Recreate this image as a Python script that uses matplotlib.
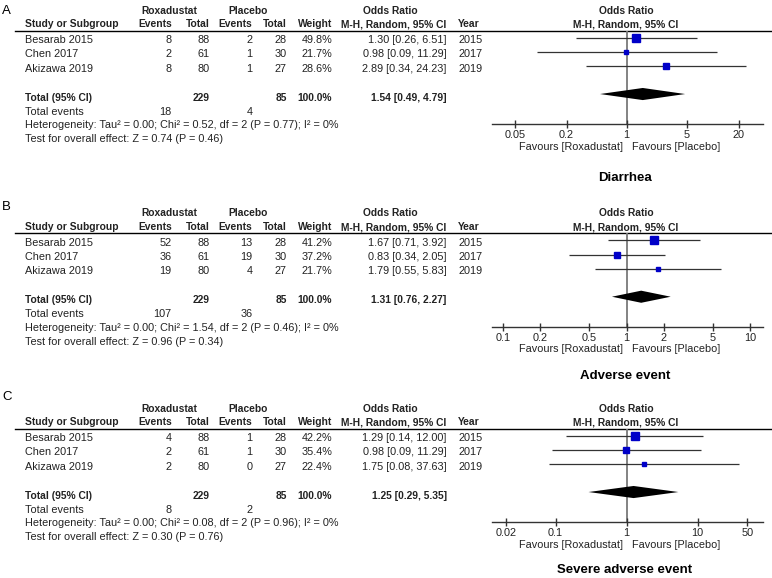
import numpy as np
import matplotlib.pyplot as plt

plt.rcParams['font.family'] = ['Liberation Sans', 'DejaVu Sans']

# data
studies = ['Besarab 2015', 'Chen 2017', 'Akizawa 2019']
years = ['2015', '2017', '2019']
rox_total = [88, 61, 80]
pla_total = [28, 30, 27]

panel_labels = ['A', 'B', 'C']
outcomes = ['Diarrhea', 'Adverse event', 'Severe adverse event']

rox_events = [[8, 2, 8], [52, 36, 19], [4, 2, 2]]
pla_events = [[2, 1, 1], [13, 19, 4], [1, 1, 0]]
weights = [[49.8, 21.7, 28.6], [41.2, 37.2, 21.7], [42.2, 35.4, 22.4]]
odds = [[1.30, 0.98, 2.89], [1.67, 0.83, 1.79], [1.29, 0.98, 1.75]]
ci_low = [[0.26, 0.09, 0.34], [0.71, 0.34, 0.55], [0.14, 0.09, 0.08]]
ci_high = [[6.51, 11.29, 24.23], [3.92, 2.05, 5.83], [12.00, 11.29, 37.63]]

total_or = [1.54, 1.31, 1.25]
total_low = [0.49, 0.76, 0.29]
total_high = [4.79, 2.27, 5.35]
total_rox_events = [18, 107, 8]
total_pla_events = [4, 36, 2]

chi2 = [0.52, 1.54, 0.08]
chi2_p = [0.77, 0.46, 0.96]
z_val = [0.74, 0.96, 0.30]
z_p = [0.46, 0.34, 0.76]

axis_ticks = [[0.05, 0.2, 1, 5, 20], [0.1, 0.2, 0.5, 1, 2, 5, 10], [0.02, 0.1, 1, 10, 50]]
tick_labels = [['0.05', '0.2', '1', '5', '20'],
               ['0.1', '0.2', '0.5', '1', '2', '5', '10'],
               ['0.02', '0.1', '1', '10', '50']]
axis_limits = [(0.0272, 38.5), (0.0815, 12.65), (0.01268, 83.2)]

# layout (pixels from top)
W, H = 772, 578
offsets = [0, 202.7, 398]
label_y = [11, 206.7, 396.7]
title_y = [178.3, 376, 570]
txt = '#222222'
fs = 7.8
fs_bold = 7.4

fig = plt.figure(figsize=(W / 100, H / 100), dpi=100)
tab = fig.add_axes([0, 0, 1, 1])
tab.set_xlim(0, W)
tab.set_ylim(H, 0)
tab.axis('off')

def t(x, y, s, ha='left', bold=False):
    tab.text(x, y, s, ha=ha, va='center', fontsize=fs_bold if bold else fs, color=txt,
             fontweight='bold' if bold else 'normal')

for p in range(3):
    o = offsets[p]
    tab.text(2, label_y[p], panel_labels[p], ha='left', va='center', fontsize=9.5, color='black')

    # header
    t(169, o + 10.7, 'Roxadustat', 'center', True)
    t(248.5, o + 10.7, 'Placebo', 'center', True)
    t(390, o + 10.7, 'Odds Ratio', 'center', True)
    t(626, o + 10.7, 'Odds Ratio', 'center', True)
    hy = o + 24.3
    t(25, hy, 'Study or Subgroup', 'left', True)
    t(171.7, hy, 'Events', 'right', True)
    t(209.3, hy, 'Total', 'right', True)
    t(252.3, hy, 'Events', 'right', True)
    t(286.7, hy, 'Total', 'right', True)
    t(332.3, hy, 'Weight', 'right', True)
    t(446.7, hy, 'M-H, Random, 95% CI', 'right', True)
    t(458.3, hy, 'Year', 'left', True)
    t(626, hy, 'M-H, Random, 95% CI', 'center', True)
    tab.plot([15, 771], [o + 30.7, o + 30.7], color='black', lw=1)

    # study rows
    for i in range(3):
        ry = o + 40 + i * 14.4
        t(25, ry, studies[i])
        t(171.7, ry, str(rox_events[p][i]), 'right')
        t(209.3, ry, str(rox_total[i]), 'right')
        t(252.3, ry, str(pla_events[p][i]), 'right')
        t(286.7, ry, str(pla_total[i]), 'right')
        t(332.3, ry, f'{weights[p][i]:.1f}%', 'right')
        t(446.7, ry, f'{odds[p][i]:.2f} [{ci_low[p][i]:.2f}, {ci_high[p][i]:.2f}]', 'right')
        t(458.3, ry, years[i])

    ty = o + 97.7
    t(25, ty, 'Total (95% CI)', 'left', True)
    t(209.3, ty, str(sum(rox_total)), 'right', True)
    t(286.7, ty, str(sum(pla_total)), 'right', True)
    t(332.3, ty, '100.0%', 'right', True)
    t(446.7, ty, f'{total_or[p]:.2f} [{total_low[p]:.2f}, {total_high[p]:.2f}]', 'right', True)
    t(25, o + 111.7, 'Total events')
    t(171.7, o + 111.7, str(total_rox_events[p]), 'right')
    t(252.3, o + 111.7, str(total_pla_events[p]), 'right')
    t(25, o + 125.3, f'Heterogeneity: Tau\u00b2 = 0.00; Chi\u00b2 = {chi2[p]:.2f}, df = 2 '
                     f'(P = {chi2_p[p]:.2f}); I\u00b2 = 0%')
    t(25, o + 139.3, f'Test for overall effect: Z = {z_val[p]:.2f} (P = {z_p[p]:.2f})')

    # forest plot
    top, bot = o + 30.7, o + 124
    ax = fig.add_axes([492 / W, 1 - bot / H, (763 - 492) / W, (bot - top) / H])
    ax.patch.set_alpha(0)
    ax.set_xscale('log')
    ax.set_xlim(*axis_limits[p])
    ax.set_ylim(6.13, -0.5)
    for s in ['top', 'left', 'right']:
        ax.spines[s].set_visible(False)
    ax.spines['bottom'].set_color('#333333')
    ax.spines['bottom'].set_linewidth(1)
    ax.set_yticks([])
    ax.set_xticks(axis_ticks[p])
    ax.set_xticklabels(tick_labels[p])
    ax.minorticks_off()
    ax.tick_params(axis='x', direction='inout', length=6, width=1, color='#333333',
                   labelsize=fs, labelcolor=txt, pad=1.5)
    ax.axvline(1, color='#7a7a7a', lw=1.3, zorder=1)

    rows = np.arange(3)
    ax.hlines(rows, ci_low[p], ci_high[p], color='#333333', lw=0.9, zorder=2)
    for i in range(3):
        side = (1.7 * np.sqrt(weights[p][i]) - 3.4) * 0.72
        ax.plot(odds[p][i], rows[i], marker='s', ms=side, color='#0000c8',
                mec='#0000c8', ls='none', zorder=3)
    h = 0.43
    ax.fill([total_low[p], total_or[p], total_high[p], total_or[p]],
            [4, 4 - h, 4, 4 + h], color='black', zorder=3, lw=0)

    t(622.7, o + 146.7, 'Favours [Roxadustat]', 'right')
    t(632.3, o + 146.7, 'Favours [Placebo]', 'left')
    tab.text(625, title_y[p], outcomes[p], ha='center', va='center', fontsize=9.5,
             fontweight='bold', color='black')

fig.savefig('out.png', dpi=100)
